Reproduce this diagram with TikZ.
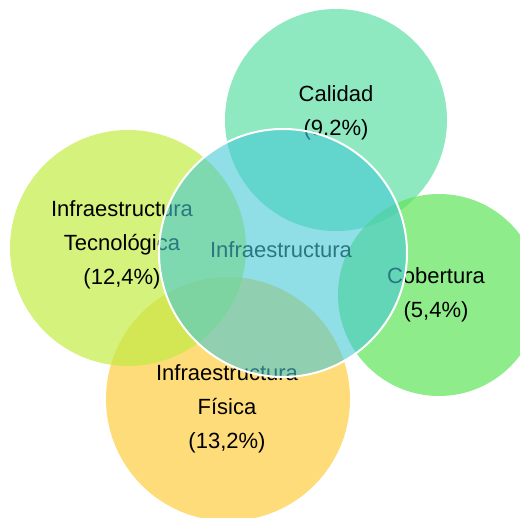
\documentclass[tikz,border=0pt]{standalone}
\usepackage{fontspec}
\setmainfont{Liberation Sans}
\usetikzlibrary{shapes}

\definecolor{calidadc}{RGB}{94,222,165}
\definecolor{tecnoc}{RGB}{194,236,68}
\definecolor{coberturac}{RGB}{94,228,88}
\definecolor{fisicac}{RGB}{255,205,65}
\definecolor{infrac}{RGB}{70,200,213}

\begin{document}
\begin{tikzpicture}[x=1pt,y=-1pt,
                    area/.style={circle,inner sep=0pt,fill opacity=0.7},
                    lbl/.style={align=center,font=\fontsize{22}{34}\selectfont}]

  \useasboundingbox (0,0) rectangle (520,518);

  % outer sets
  \node[area,fill=fisicac,minimum size=244pt]     (fisica)    at (228,399) {};
  \node[area,fill=tecnoc,minimum size=236pt]      (tecno)     at (128,248) {};
  \node[area,fill=calidadc,minimum size=222pt]    (calidad)   at (336,120) {};
  \node[area,fill=coberturac,minimum size=202pt]  (cobertura) at (439,295) {};

  \node[lbl] (calidadtxt)   at (336,113) {Calidad\\(9.2\%)};
  \node[lbl] (tecnotxt)     at (122,245) {Infraestructura\\Tecnológica\\(12,4\%)};
  \node[lbl] (coberturatxt) at (436,295) {Cobertura\\(5,4\%)};
  \node[lbl] (fisicatxt)    at (227,409) {Infraestructura\\Física\\(13,2\%)};
  \node[lbl] (infratxt)     at (281,250) {Infraestructura};

  % centre set on top
  \node[area,fill=infrac,fill opacity=0.6,draw=white,line width=2pt,
        minimum size=248pt] (infra) at (283,253) {};
\end{tikzpicture}
\end{document}
